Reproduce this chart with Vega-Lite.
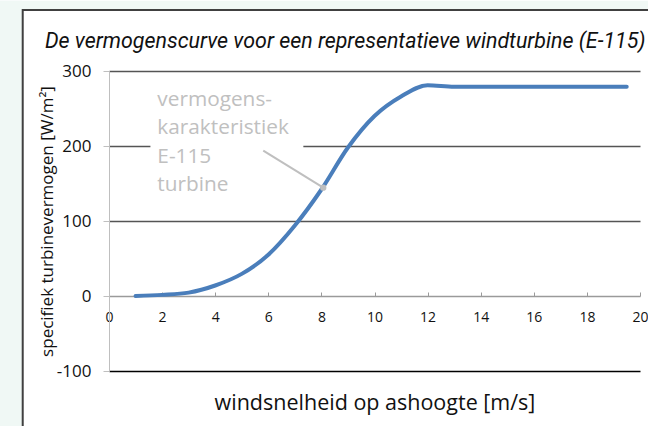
{
  "$schema": "https://vega.github.io/schema/vega-lite/v6.json",
  "width": 531,
  "height": 300,
  "autosize": {"type": "none"},
  "padding": {"left": 109, "top": 71, "right": 8, "bottom": 55},
  "background": "white",
  "config": {"view": {"stroke": null}, "font": "Open Sans"},
  "title": {
    "text": "De vermogenscurve voor een representatieve windturbine (E-115)",
    "anchor": "start",
    "frame": "group",
    "dx": -64,
    "dy": 69,
    "baseline": "alphabetic",
    "font": "Roboto",
    "fontStyle": "italic",
    "fontWeight": "normal",
    "fontSize": 21.4,
    "color": "#111111",
    "offset": 0
  },
  "datasets": {
    "curve": [
      {"ws": 1, "p": 0},
      {"ws": 2, "p": 1.5},
      {"ws": 3, "p": 4.5},
      {"ws": 4, "p": 14},
      {"ws": 5, "p": 29.5},
      {"ws": 6, "p": 55},
      {"ws": 7, "p": 94},
      {"ws": 8, "p": 142},
      {"ws": 9, "p": 198},
      {"ws": 10, "p": 240},
      {"ws": 11, "p": 266},
      {"ws": 12, "p": 281},
      {"ws": 13, "p": 279},
      {"ws": 14, "p": 279},
      {"ws": 15, "p": 279},
      {"ws": 16, "p": 279},
      {"ws": 17, "p": 279},
      {"ws": 18, "p": 279},
      {"ws": 19, "p": 279},
      {"ws": 19.5, "p": 279}
    ],
    "label": [
      {"t": "vermogens-", "ws": 1.82, "p": 262},
      {"t": "karakteristiek", "ws": 1.82, "p": 223.5},
      {"t": "E-115", "ws": 1.82, "p": 185.5},
      {"t": "turbine", "ws": 1.82, "p": 148}
    ],
    "leader": [
      {"ws": 5.81, "p": 193.7, "ws2": 8.07, "p2": 144.4}
    ],
    "one": [{}]
  },
  "layer": [
    {
      "data": {"name": "one"},
      "mark": {"type": "rect", "fill": "#f0f8f5", "clip": false},
      "encoding": {
        "x": {"datum": -6, "type": "quantitative", "scale": {"domain": [0, 20], "nice": false}},
        "x2": {"datum": -3.27},
        "y": {"datum": -300, "type": "quantitative", "scale": {"domain": [-100, 300], "nice": false}},
        "y2": {"datum": 393.7}
      }
    },
    {
      "data": {"name": "one"},
      "mark": {"type": "rect", "fill": "#f0f8f5", "clip": false},
      "encoding": {
        "x": {"datum": -6, "type": "quantitative"},
        "x2": {"datum": 30},
        "y": {"datum": 381.5, "type": "quantitative"},
        "y2": {"datum": 393.7}
      }
    },
    {
      "data": {"name": "one"},
      "mark": {"type": "rect", "filled": false, "stroke": "#404040", "strokeWidth": 2, "clip": false},
      "encoding": {
        "x": {"datum": -3.25, "type": "quantitative"},
        "x2": {"datum": 30},
        "y": {"datum": 381.5, "type": "quantitative"},
        "y2": {"datum": -300}
      }
    },
    {
      "data": {"name": "one"},
      "mark": {"type": "rect", "fill": "white"},
      "encoding": {
        "x": {"datum": 1.56, "type": "quantitative"},
        "x2": {"datum": 7.32},
        "y": {"datum": 275, "type": "quantitative"},
        "y2": {"datum": 130}
      }
    },
    {
      "data": {"name": "curve"},
      "mark": {"type": "line", "color": "#4a7ebb", "strokeWidth": 4, "interpolate": "monotone", "strokeCap": "round"},
      "encoding": {
        "x": {
          "field": "ws", "type": "quantitative",
          "scale": {"domain": [0, 20], "nice": false},
          "axis": {
            "orient": "bottom",
            "offset": -75,
            "values": [0, 2, 4, 6, 8, 10, 12, 14, 16, 18, 20],
            "grid": false,
            "domainColor": "#9a9a9a",
            "domainWidth": 1.3,
            "tickColor": "#9a9a9a",
            "tickSize": -4,
            "labelFont": "Open Sans",
            "labelFontSize": 14,
            "labelColor": "#111111",
            "labelPadding": 18,
            "labelFlush": false,
            "title": "windsnelheid op ashoogte [m/s]",
            "titleFont": "Open Sans",
            "titleFontSize": 21.5,
            "titleFontWeight": "normal",
            "titleColor": "#111111",
            "titleBaseline": "alphabetic",
            "titleY": 113
          }
        },
        "y": {
          "field": "p", "type": "quantitative",
          "scale": {"domain": [-100, 300], "nice": false},
          "axis": {
            "values": [-100, 0, 100, 200, 300],
            "labelExpr": "'' + datum.value",
            "grid": true,
            "gridColor": {"condition": {"test": "datum.value === -100", "value": "#000000"}, "value": "#555555"},
            "gridOpacity": {"condition": {"test": "datum.value === 0", "value": 0}, "value": 1},
            "gridWidth": 1.3,
            "domainColor": "#bfbfbf",
            "tickColor": "#bfbfbf",
            "tickSize": 6,
            "labelFont": "Open Sans",
            "labelFontSize": 17,
            "labelColor": "#111111",
            "labelPadding": 12,
            "labelFlush": false,
            "title": "specifiek turbinevermogen [W/m²]",
            "titleFont": "Open Sans",
            "titleFontSize": 17,
            "titleFontWeight": "normal",
            "titleColor": "#111111",
            "titleX": -57,
            "titleY": 150,
            "titleAngle": -90,
            "titleAlign": "center",
            "titleBaseline": "alphabetic"
          }
        }
      }
    },
    {
      "data": {"name": "leader"},
      "mark": {"type": "rule", "color": "#bfbfbf", "strokeWidth": 2},
      "encoding": {
        "x": {"field": "ws", "type": "quantitative"},
        "y": {"field": "p", "type": "quantitative"},
        "x2": {"field": "ws2"},
        "y2": {"field": "p2"}
      }
    },
    {
      "data": {"name": "leader"},
      "mark": {"type": "point", "filled": true, "color": "#bfbfbf", "size": 40, "opacity": 1},
      "encoding": {
        "x": {"field": "ws2", "type": "quantitative"},
        "y": {"field": "p2", "type": "quantitative"}
      }
    },
    {
      "data": {"name": "label"},
      "mark": {"type": "text", "align": "left", "baseline": "middle", "font": "Open Sans", "fontSize": 20.8, "color": "#c0c0c0"},
      "encoding": {
        "x": {"field": "ws", "type": "quantitative"},
        "y": {"field": "p", "type": "quantitative"},
        "text": {"field": "t"}
      }
    }
  ]
}
